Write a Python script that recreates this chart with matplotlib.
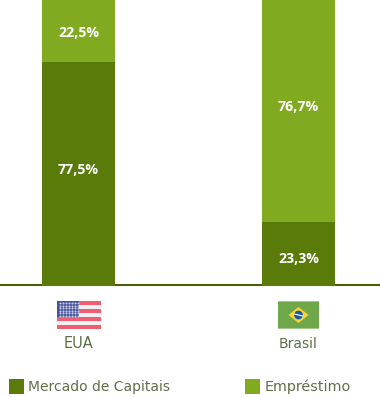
# -*- coding: utf-8 -*-
import numpy as np
import matplotlib.pyplot as plt
from matplotlib.patches import Rectangle, Polygon, Circle

paises = ['EUA', 'Brasil']
mercado = [77.5, 22.1]
emprestimo = [22.5, 77.9]
rotulos_mercado = ['77,5%', '23,3%']
rotulos_emprestimo = ['22,5%', '76,7%']
legenda = ['Mercado de Capitais', 'Empréstimo']

verde_escuro = '#5A7A0A'
verde_claro = '#82AA20'
cor_texto = '#5F7048'

plt.rcParams['font.family'] = ['DejaVu Sans']

W, H = 380, 397
fig = plt.figure(figsize=[W / 100, H / 100], dpi=100)

# chart area, baseline sits at y=286px
axis = fig.add_axes([0, (H - 286) / H, 1, 286 / H])
axis.set_xlim(-78.5 / 220, (W - 78.5) / 220)
axis.set_ylim(0, 286 / 2.89)
axis.axis('off')

x = np.arange(len(paises))
axis.bar(x, mercado, width=0.332, color=verde_escuro)
axis.bar(x, emprestimo, bottom=mercado, width=0.332, color=verde_claro)

# labels are not centred in the original
offs_m = [4, -5]
offs_e = [-3.5, 2.5]
for i in x:
    axis.annotate(rotulos_mercado[i], (i, mercado[i] / 2), xytext=(0, offs_m[i] * 0.72),
                  textcoords='offset points', ha='center', va='center',
                  color='white', fontweight='bold', fontsize=10.2, family='Open Sans')
    axis.annotate(rotulos_emprestimo[i], (i, mercado[i] + emprestimo[i] / 2),
                  xytext=(0, offs_e[i] * 0.72), textcoords='offset points',
                  ha='center', va='center', color='white', fontweight='bold',
                  fontsize=10.2, family='Open Sans')

# everything below the bars, in pixel coordinates
pix = fig.add_axes([0, 0, 1, 1], zorder=-1)
pix.set_xlim(0, W)
pix.set_ylim(H, 0)
pix.axis('off')

pix.plot([0, W], [285, 285], color='#4B5E08', linewidth=1.5, solid_capstyle='butt')

# US flag, 7 stripes of 4px
for k in range(7):
    cor = '#EE5F72' if k % 2 == 0 else '#F1F1F5'
    pix.add_patch(Rectangle((57, 301 + k * 4), 44, 4, color=cor, lw=0))
pix.add_patch(Rectangle((57, 301), 22, 16, color='#46529C', lw=0))
sx, sy = np.meshgrid(np.arange(59.5, 78, 3), np.arange(303, 316, 2.5))
pix.scatter(sx.ravel(), sy.ravel(), s=2.2, color='#C9CCE4', linewidths=0)

# Brazil flag
pix.add_patch(Rectangle((278, 301), 41, 28, color='#6FA84A', lw=0))
pix.add_patch(Rectangle((278, 301), 41, 1, color='#A3C88A', lw=0))
pix.add_patch(Rectangle((278, 328), 41, 1, color='#A3C88A', lw=0))
pix.add_patch(Polygon([(298.5, 307), (308.5, 315), (298.5, 323), (288.5, 315)], color='#FFD233', lw=0))
pix.add_patch(Circle((298.5, 315), 4.4, color='#1B5AA6', lw=0))
pix.plot([294.5, 302.5], [314, 316], color='white', linewidth=0.8)

pix.text(78.5, 344, paises[0], ha='center', va='center', color=cor_texto, fontsize=10.5)
pix.text(298.5, 344, paises[1], ha='center', va='center', color=cor_texto, fontsize=10)

# legend
pix.add_patch(Rectangle((9, 379), 15, 15, color=verde_escuro, lw=0))
pix.text(28, 387, legenda[0], ha='left', va='center', color=cor_texto, fontsize=10)
pix.add_patch(Rectangle((245, 379), 15, 15, color=verde_claro, lw=0))
pix.text(265, 387, legenda[1], ha='left', va='center', color=cor_texto, fontsize=10.4)

fig.savefig('out.png', dpi=100)
